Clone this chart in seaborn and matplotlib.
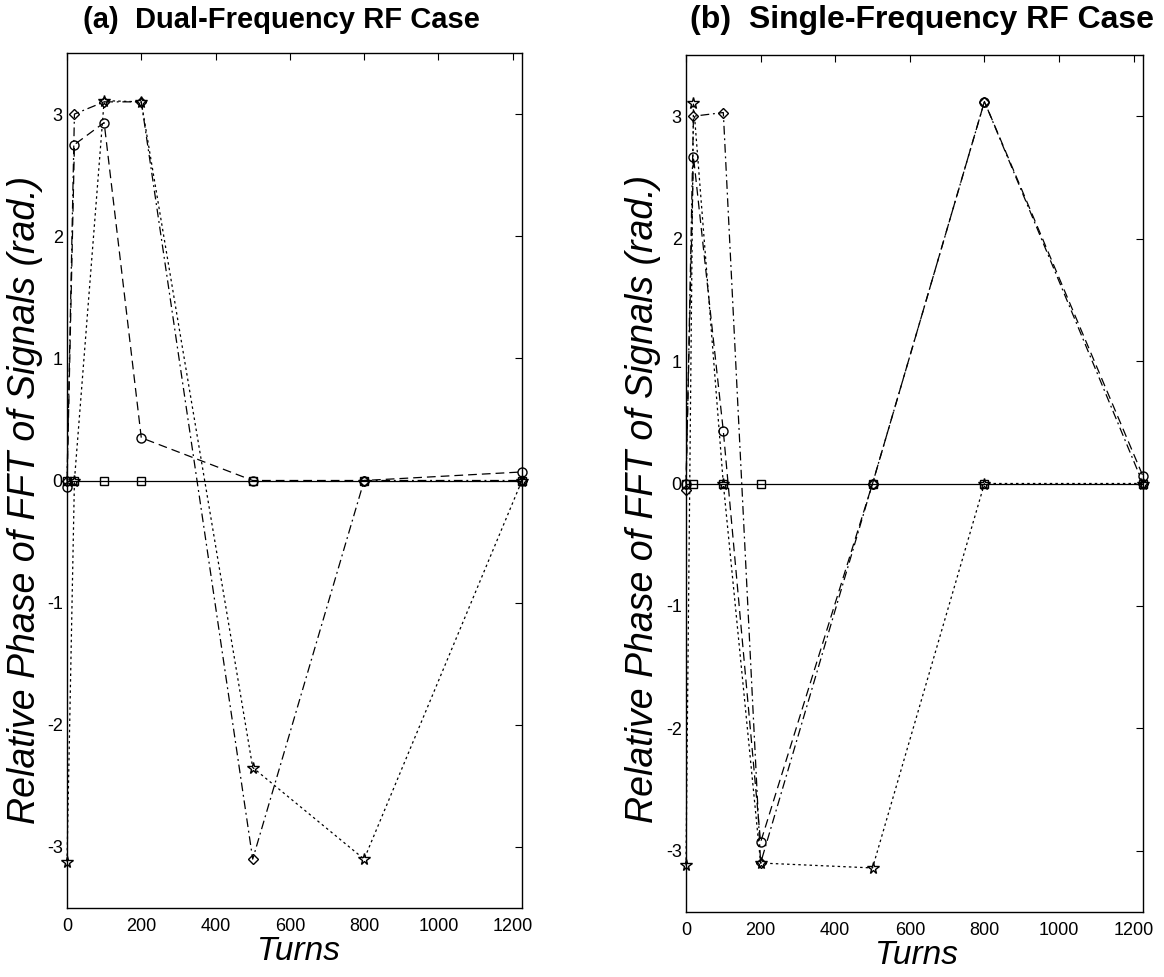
import matplotlib
matplotlib.use("Agg")
import matplotlib.pyplot as plt
import seaborn as sns
import pandas as pd

# ---- data ----
turns = [0, 20, 100, 200, 500, 800, 1225]

# (a) dual-frequency RF case
a_circle = [-0.05, 2.75, 2.93, 0.35, 0.0, 0.0, 0.07]
a_diamond = [0.0, 3.0, 3.1, 3.1, -3.1, 0.0, 0.0]
a_star = [-3.12, 0.0, 3.11, 3.1, -2.35, -3.1, 0.0]
a_square = [0.0, 0.0, 0.0, 0.0, 0.0, 0.0, 0.0]

# (b) single-frequency RF case
b_circle = [0.0, 2.67, 0.43, -2.93, 0.0, 3.12, 0.06]
b_diamond = [-0.05, 3.0, 3.03, -3.1, 0.0, 3.12, 0.0]
b_star = [-3.12, 3.11, 0.0, -3.1, -3.14, 0.0, 0.0]
b_square = [0.0, 0.0, 0.0, 0.0, 0.0, 0.0, 0.0]

x_ticks = [0, 200, 400, 600, 800, 1000, 1200]
y_ticks = [-3, -2, -1, 0, 1, 2, 3]
titles = ["(a)  Dual-Frequency RF Case", "(b)  Single-Frequency RF Case"]
ylabel = "Relative Phase of FFT of Signals (rad.)"
xlabel = "Turns"

sns.set_style("white")
plt.rcParams["font.family"] = ["Liberation Sans", "DejaVu Sans"]
plt.rcParams["text.color"] = "black"
plt.rcParams["axes.labelcolor"] = "black"
plt.rcParams["axes.unicode_minus"] = False

W, H = 1164, 977
fig = plt.figure(figsize=(W / 100, H / 100), dpi=100)

ax_a = fig.add_axes([67 / W, (H - 908) / H, 455 / W, (908 - 53) / H])
ax_b = fig.add_axes([686 / W, (H - 912) / H, 457 / W, (912 - 55) / H])

styles = {
    "circle": dict(marker="o", ls=(0, (7, 4)), ms=6.5),
    "diamond": dict(marker="D", ls=(0, (7, 3, 1.5, 3)), ms=5.5),
    "star": dict(marker="*", ls=(0, (2, 2.5)), ms=8.5),
    "square": dict(marker="s", ls="-", ms=6.0),
}

panels = [
    (ax_a, {"circle": a_circle, "diamond": a_diamond, "star": a_star, "square": a_square}),
    (ax_b, {"circle": b_circle, "diamond": b_diamond, "star": b_star, "square": b_square}),
]

for ax, series in panels:
    for name, vals in series.items():
        df = pd.DataFrame({"Turns": turns, "Phase": vals})
        st = styles[name]
        sns.lineplot(data=df, x="Turns", y="Phase", ax=ax, color="black",
                     linewidth=0.9, linestyle=st["ls"], marker=st["marker"],
                     markersize=st["ms"], markerfacecolor="none",
                     markeredgecolor="black", markeredgewidth=1.0,
                     sort=False, estimator=None, clip_on=False)
    ax.set_xlim(0, 1225)
    ax.set_ylim(-3.5, 3.5)
    ax.set_xticks(x_ticks)
    ax.set_yticks(y_ticks)
    ax.set_xlabel("")
    ax.set_ylabel("")
    ax.tick_params(direction="in", length=5, width=0.8, top=True, right=True,
                   labelsize=13, colors="black")
    ax.tick_params(axis="x", pad=7)
    ax.tick_params(axis="y", pad=3)
    for sp in ax.spines.values():
        sp.set_visible(True)
        sp.set_color("black")
        sp.set_linewidth(1.0)
    ax.set_facecolor("white")

# titles
fig.text(281 / W, 1 - 20 / H, titles[0], ha="center", va="center",
         fontsize=21, fontweight="bold", color="black")
fig.text(922 / W, 1 - 20 / H, titles[1], ha="center", va="center",
         fontsize=23, fontweight="bold", color="black")

# y labels
fig.text(25 / W, 1 - 500 / H, ylabel, rotation=90, ha="center", va="center",
         fontsize=27, fontstyle="italic", color="black")
fig.text(643 / W, 1 - 499 / H, ylabel, rotation=90, ha="center", va="center",
         fontsize=27, fontstyle="italic", color="black")

# x labels
fig.text(298 / W, 1 - 952 / H, xlabel, ha="center", va="center",
         fontsize=24, fontstyle="italic", color="black")
fig.text(917 / W, 1 - 956 / H, xlabel, ha="center", va="center",
         fontsize=24, fontstyle="italic", color="black")

fig.savefig("out.png", dpi=100, facecolor="white")
